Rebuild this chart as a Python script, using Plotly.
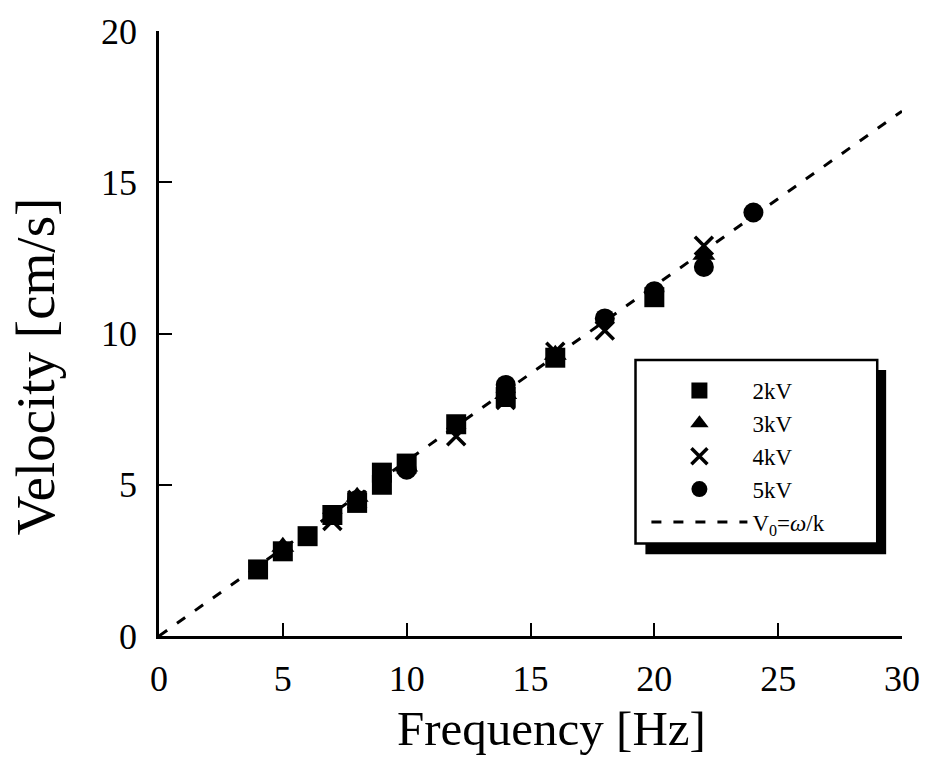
import plotly.graph_objects as go

# Data
f_2kv = [4, 5, 6, 7, 8, 9, 9, 10, 12, 14, 16, 20]
v_2kv = [2.2, 2.8, 3.3, 4.0, 4.4, 5.0, 5.4, 5.7, 7.0, 7.9, 9.2, 11.2]

f_3kv = [5, 8, 10, 14, 16, 22]
v_3kv = [2.95, 4.6, 5.6, 8.0, 9.3, 12.6]

f_4kv = [7, 8, 12, 14, 16, 18, 22]
v_4kv = [3.8, 4.5, 6.6, 7.8, 9.4, 10.1, 12.9]

f_5kv = [8, 10, 14, 18, 20, 22, 24]
v_5kv = [4.5, 5.5, 8.3, 10.5, 11.4, 12.2, 14.0]

f_line = [0, 30]
v_line = [0, 17.35]

x_ticks = [0, 5, 10, 15, 20, 25, 30]
y_ticks = [0, 5, 10, 15, 20]

FONT = "Liberation Serif, Times New Roman, serif"

fig = go.Figure()
fig.add_trace(go.Scatter(x=f_2kv, y=v_2kv, mode="markers", name="2kV",
                         marker=dict(symbol="square", size=20, color="black")))
fig.add_trace(go.Scatter(x=f_3kv, y=v_3kv, mode="markers", name="3kV",
                         marker=dict(symbol="triangle-up", size=20, color="black")))
fig.add_trace(go.Scatter(x=f_4kv, y=v_4kv, mode="markers", name="4kV",
                         marker=dict(symbol="x-thin", size=18, color="black",
                                     line=dict(color="black", width=3.5))))
fig.add_trace(go.Scatter(x=f_5kv, y=v_5kv, mode="markers", name="5kV",
                         marker=dict(symbol="circle", size=20, color="black")))
fig.add_trace(go.Scatter(x=f_line, y=v_line, mode="lines",
                         name="V<sub>0</sub>=<i>ω</i>/k",
                         line=dict(color="black", width=3, dash="10px,12px")))

axis_common = dict(
    showline=True, linecolor="black", linewidth=2.5, mirror=False,
    ticks="inside", ticklen=13, tickwidth=2, tickcolor="black",
    showgrid=False, zeroline=False,
    tickfont=dict(family=FONT, size=36, color="black"),
)

fig.update_xaxes(range=[0, 30], tickvals=x_ticks, ticktext=[str(t) for t in x_ticks],
                 ticklabelstandoff=9, **axis_common)
fig.update_yaxes(range=[0, 20], tickvals=y_ticks, ticktext=[str(t) for t in y_ticks],
                 ticklabelstandoff=12, **axis_common)

# plot area geometry (px) used for paper conversion
PL, PR, PT, PB = 159, 909, 22, 636
PW, PH = PR - PL, PB - PT


def px(xp):
    return (xp - PL) / PW


def py(yp):
    return (PB - yp) / PH


# axis titles as annotations (placed like the reference)
fig.add_annotation(text="Frequency [Hz]", xref="paper", yref="paper",
                   x=px(555), y=py(730), xanchor="center", yanchor="middle",
                   showarrow=False, font=dict(family=FONT, size=49, color="black"))
fig.add_annotation(text="Velocity [cm/s]", xref="paper", yref="paper",
                   x=px(34), y=py(362), xanchor="center", yanchor="middle", textangle=-90,
                   showarrow=False, font=dict(family=FONT, size=55, color="black"))

# legend box with drop shadow
fig.add_shape(type="rect", xref="paper", yref="paper",
              x0=px(650), x1=px(893), y0=py(553), y1=py(366),
              fillcolor="black", line=dict(width=0), layer="above")
fig.add_shape(type="rect", xref="paper", yref="paper",
              x0=px(640), x1=px(884), y0=py(542), y1=py(356),
              fillcolor="white", line=dict(color="black", width=2.5), layer="above")

fig.update_layout(
    width=932, height=766,
    margin=dict(l=PL, r=932 - PR, t=PT, b=766 - PB),
    paper_bgcolor="white", plot_bgcolor="white",
    font=dict(family=FONT, color="black"),
    legend=dict(x=px(651), y=py(365), xanchor="left", yanchor="top",
                bgcolor="rgba(0,0,0,0)", borderwidth=0,
                font=dict(family=FONT, size=23, color="black"),
                itemwidth=96, tracegroupgap=0),
    showlegend=True,
)

fig.write_html("out.html")
